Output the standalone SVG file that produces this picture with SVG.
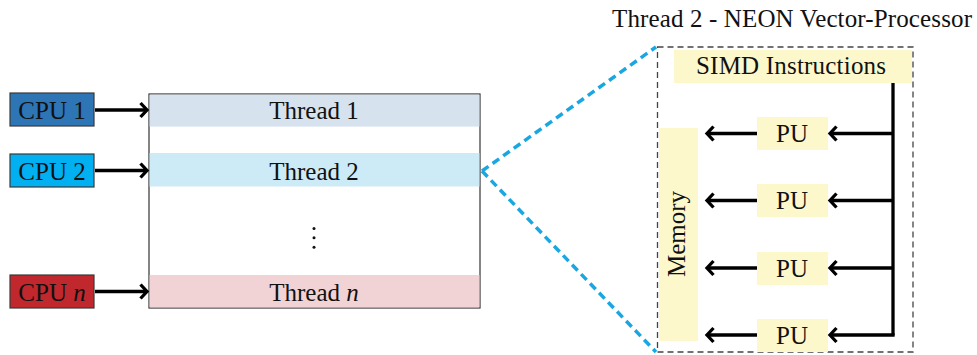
<svg xmlns="http://www.w3.org/2000/svg" width="977" height="355" viewBox="0 0 977 355">
<defs>
<style>
text{font-family:"Liberation Serif","Times New Roman",serif;font-size:25px;fill:#111;}
.cpu{stroke:#3a3a3a;stroke-width:1.2;}
.arr{stroke:#000;stroke-width:3.3;fill:none;marker-end:url(#ah);}
.yel{fill:#fdf8cc;}
</style>
<marker id="ah" markerUnits="userSpaceOnUse" markerWidth="16" markerHeight="18" viewBox="-10 -9 12 18" refX="0" refY="0" orient="auto">
<path d="M-6.5,-7 L0,0 L-6.5,7" fill="none" stroke="#000" stroke-width="3.3"/>
</marker>
</defs>
<rect width="977" height="355" fill="#fff"/>

<g id="cpu1"><rect class="cpu" x="10" y="93" width="84" height="33" fill="#2e75b6"/><text x="52" y="118.5" text-anchor="middle">CPU 1</text></g>
<g id="cpu2"><rect class="cpu" x="10" y="154" width="84" height="33" fill="#00b0f0"/><text x="52" y="179.5" text-anchor="middle">CPU 2</text></g>
<g id="cpun"><rect class="cpu" x="10" y="275" width="84" height="33" fill="#c0282d"/><text x="52" y="300.5" text-anchor="middle">CPU <tspan font-style="italic">n</tspan></text></g>

<g id="threads">
<rect x="149" y="94" width="331" height="214" fill="#fff" stroke="#333" stroke-width="1.2"/>
<rect x="149.6" y="94.6" width="329.8" height="32" fill="#d6e2ee"/>
<rect x="149.6" y="153" width="329.8" height="33.5" fill="#cdebf7"/>
<rect x="149.6" y="275" width="329.8" height="32.4" fill="#f1d3d6"/>
<text x="314" y="118.5" text-anchor="middle">Thread 1</text>
<text x="314" y="179.5" text-anchor="middle">Thread 2</text>
<text x="314" y="300.5" text-anchor="middle">Thread <tspan font-style="italic">n</tspan></text>
<circle cx="314" cy="228.5" r="1.5" fill="#111"/>
<circle cx="314" cy="237.8" r="1.5" fill="#111"/>
<circle cx="314" cy="247.2" r="1.5" fill="#111"/>
</g>

<g id="neon">
<text x="612" y="27" textLength="360" lengthAdjust="spacing">Thread 2 - NEON Vector-Processor</text>
<rect x="657.5" y="47" width="255.5" height="305" fill="none" stroke="#444" stroke-width="1.3" stroke-dasharray="6,4"/>
</g>
<g id="simd"><rect class="yel" x="674" y="50" width="238" height="33"/><text x="791" y="74" text-anchor="middle" textLength="190" lengthAdjust="spacing">SIMD Instructions</text></g>
<g id="memory"><rect class="yel" x="659" y="128" width="39" height="213"/><text transform="translate(685,234) rotate(-90)" text-anchor="middle">Memory</text></g>
<g id="pu1"><rect class="yel" x="757" y="117" width="71" height="33"/><text x="792" y="142" text-anchor="middle">PU</text></g>
<g id="pu2"><rect class="yel" x="757" y="184" width="71" height="33"/><text x="792" y="209" text-anchor="middle">PU</text></g>
<g id="pu3"><rect class="yel" x="757" y="252" width="71" height="33"/><text x="792" y="277" text-anchor="middle">PU</text></g>
<g id="pu4"><rect class="yel" x="757" y="319" width="71" height="33"/><text x="792" y="344" text-anchor="middle">PU</text></g>

<g id="connectors">
<line class="arr" x1="95" y1="110" x2="147" y2="110"/>
<line class="arr" x1="95" y1="170.5" x2="147" y2="170.5"/>
<line class="arr" x1="95" y1="291.5" x2="147" y2="291.5"/>
<g stroke="#1aa7e1" stroke-width="3.5" stroke-dasharray="8,5" fill="none">
<line x1="482" y1="171" x2="656" y2="47"/>
<line x1="482" y1="171" x2="656" y2="352"/>
</g>
<path d="M893,83 L893,335.5" stroke="#000" stroke-width="3.3" fill="none"/>
<line class="arr" x1="893" y1="133.5" x2="830" y2="133.5"/>
<line class="arr" x1="893" y1="200.5" x2="830" y2="200.5"/>
<line class="arr" x1="893" y1="268" x2="830" y2="268"/>
<line class="arr" x1="894.6" y1="335" x2="830" y2="335"/>
<line class="arr" x1="757" y1="133.5" x2="707" y2="133.5"/>
<line class="arr" x1="757" y1="200.5" x2="707" y2="200.5"/>
<line class="arr" x1="757" y1="268" x2="707" y2="268"/>
<line class="arr" x1="757" y1="335" x2="707" y2="335"/>
</g>
</svg>
